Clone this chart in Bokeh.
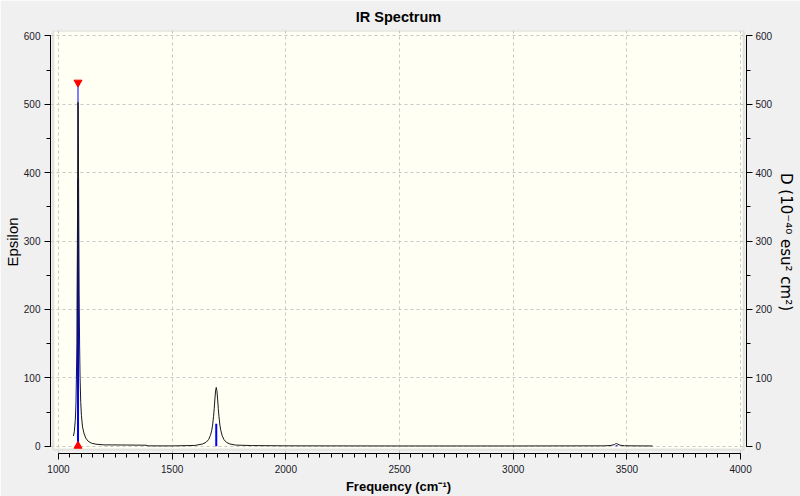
from bokeh.plotting import figure
from bokeh.models import Range1d, LinearAxis, SingleIntervalTicker, BoxAnnotation
from bokeh.embed import file_html
from bokeh.resources import INLINE

# ---- data ----
spec_freq = [1066, 1070, 1074, 1077, 1079, 1081, 1082, 1083, 1084, 1085, 1086, 1087, 1088,
             1089, 1090, 1091, 1093, 1095, 1098, 1101, 1106, 1113, 1120, 1130, 1145, 1165,
             1200, 1300, 1385, 1395, 1500, 1600, 1609, 1634, 1649, 1660, 1668, 1674, 1678,
             1682, 1685, 1688, 1691, 1694, 1697, 1700, 1703, 1706, 1710, 1714, 1720, 1728,
             1739, 1754, 1779, 1850, 2000, 2500, 3000, 3400, 3430, 3445, 3450, 3455, 3460,
             3470, 3490, 3613]
spec_eps = [15, 22, 38, 62, 100, 150, 224, 281, 348, 420, 503, 479, 420,
            348, 281, 224, 148, 101, 64, 45, 28, 18, 12, 7.5, 4.5, 3,
            2, 1.8, 1.5, 0.6, 0.5, 1.2, 1.7, 3.3, 5.7, 9.6, 15.5, 23, 31,
            43, 55, 69, 81, 86, 81, 69, 55, 43, 31, 23, 15.5, 9.6,
            5.7, 3.3, 1.7, 1, 0.6, 0.4, 0.4, 0.6, 1.2, 2.5, 3.5, 4, 3,
            1.5, 0.7, 0.4]

stick_freq = [1086, 1694, 3455]
stick_d = [391, 33, 1.5]

cursor_freq = [1086]
cursor_top = [532]
cursor_bottom = [0.5]

x_ticks_major = 500
y_ticks_major = 100

FONT = "Liberation Sans"

p = figure(width=800, height=496, output_backend="svg", toolbar_location=None,
           x_range=Range1d(965, 4026), y_range=Range1d(-10.6, 608),
           min_border_left=48, min_border_right=54, min_border_top=28, min_border_bottom=43)

p.background_fill_color = "#f0f0f0"
p.border_fill_color = "#f0f0f0"
p.outline_line_color = None

p.title.text = "IR Spectrum"
p.title.align = "center"
p.title.text_font = FONT
p.title.text_font_size = "14.5px"
p.title.text_font_style = "bold"
p.title.text_color = "#000000"
p.title.standoff = 12
p.title.offset = 2

frame = BoxAnnotation(left=978, right=4013, bottom=-4.8, top=607.5,
                      fill_color="#fffff4", fill_alpha=1.0,
                      line_color="#b0b0b0", line_width=2, level="image")
p.add_layout(frame)

xt = SingleIntervalTicker(interval=x_ticks_major, num_minor_ticks=10)
yt = SingleIntervalTicker(interval=y_ticks_major, num_minor_ticks=2)

p.xaxis.ticker = xt
p.yaxis.ticker = yt
p.xgrid.ticker = xt
p.ygrid.ticker = yt
for g in (p.xgrid, p.ygrid):
    g.grid_line_color = "#c8c8c8"
    g.grid_line_dash = "3 3"
    g.grid_line_width = 1

right = LinearAxis(ticker=yt)
p.add_layout(right, "right")

for ax in (p.xaxis[0], p.yaxis[0], right):
    ax.axis_line_color = "#000000"
    ax.major_tick_line_color = "#000000"
    ax.minor_tick_line_color = "#000000"
    ax.major_tick_in = 0
    ax.minor_tick_in = 0
    ax.major_tick_out = 6
    ax.minor_tick_out = 4
    ax.major_label_text_font = FONT
    ax.major_label_text_font_size = "10px"
    ax.major_label_text_color = "#1a1a2a"
    ax.axis_label_text_font = FONT
    ax.axis_label_text_color = "#000000"

p.xaxis.bounds = (1000, 4000)
p.yaxis.bounds = (0, 600)
right.bounds = (0, 600)

p.xaxis.major_label_standoff = 5
p.xaxis.axis_label_standoff = 3
p.yaxis.major_label_standoff = 4
p.yaxis.axis_label_standoff = 0
right.major_label_standoff = 3
right.axis_label_standoff = 2

p.xaxis.axis_label = "Frequency (cm⁻¹)"
p.xaxis.axis_label_text_font_size = "13px"
p.xaxis.axis_label_text_font_style = "bold"
p.yaxis.axis_label = "Epsilon"
p.yaxis.axis_label_text_font_size = "15px"
p.yaxis.axis_label_text_font_style = "normal"
right.axis_label = "D (10⁻⁴⁰ esu² cm²)"
right.axis_label_text_font = "DejaVu Sans"
right.axis_label_text_font_size = "15px"
right.axis_label_text_font_style = "normal"

p.segment(x0=cursor_freq, y0=cursor_bottom, x1=cursor_freq, y1=cursor_top,
          line_color="#0000ff", line_width=1)
p.segment(x0=stick_freq, y0=[0] * len(stick_freq), x1=stick_freq, y1=stick_d,
          line_color="#0000ff", line_width=2)
p.line(spec_freq, spec_eps, line_color="#1a1a1a", line_width=1)
p.scatter(cursor_freq, cursor_top, marker="inverted_triangle", size=8,
          fill_color="#ff0000", line_color="#ff0000")
p.scatter(cursor_freq, cursor_bottom, marker="triangle", size=8,
          fill_color="#ff0000", line_color="#ff0000")

open("out.html", "w").write(file_html(p, INLINE))
